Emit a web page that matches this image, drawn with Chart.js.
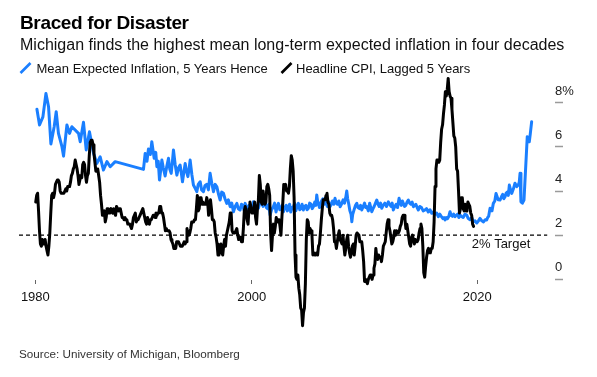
<!DOCTYPE html>
<html>
<head>
<meta charset="utf-8">
<script src="https://cdn.jsdelivr.net/npm/chart.js@4.4.1/dist/chart.umd.min.js"></script>
<style>
html,body{margin:0;padding:0;background:#fff;}
body{width:597px;height:377px;position:relative;overflow:hidden;font-family:'Liberation Sans',Arial,Helvetica,sans-serif;}
.t{position:absolute;white-space:nowrap;line-height:1;}
#title{left:20px;top:13.2px;font-size:19px;font-weight:bold;letter-spacing:-0.35px;color:#000;}
#subtitle{left:20px;top:37.2px;font-size:16px;color:#111;}
.leg{top:61.7px;font-size:13px;color:#111;}
#src{left:19px;top:348.3px;font-size:11.7px;color:#333;}
svg.icon{position:absolute;}
canvas{position:absolute;left:0;top:0;}
</style>
</head>
<body>
<canvas id="c" width="597" height="377"></canvas>
<div class="t" id="title">Braced for Disaster</div>
<div class="t" id="subtitle">Michigan finds the highest mean long-term expected inflation in four decades</div>
<svg class="icon" style="left:19px;top:62px" width="13" height="12"><line x1="1.5" y1="11" x2="11.5" y2="1" stroke="#1a7fff" stroke-width="2.6"/></svg>
<div class="t leg" style="left:36.5px">Mean Expected Inflation, 5 Years Hence</div>
<svg class="icon" style="left:280px;top:62px" width="13" height="12"><line x1="1.5" y1="11" x2="11.5" y2="1" stroke="#000" stroke-width="2.6"/></svg>
<div class="t leg" style="left:296px">Headline CPI, Lagged 5 Years</div>
<div class="t" id="src">Source: University of Michigan, Bloomberg</div>
<script>
// ---- data ----
// Headline CPI YoY (%), monthly from Nov 1985, plotted 5 years earlier
const cpiStart = 1980 + 10 / 12;
const cpiValues = [
  3.5, 3.8,
  3.9, 3.1, 2.2, 1.6, 1.5, 1.8, 1.6, 1.6, 1.8, 1.5, 1.3, 1.1,
  1.5, 2.1, 3.0, 3.8, 3.9, 3.7, 3.9, 4.3, 4.4, 4.5, 4.5, 4.4,
  4.0, 3.9, 3.9, 3.9, 3.9, 4.0, 4.1, 4.0, 4.2, 4.2, 4.2, 4.4,
  4.7, 4.8, 5.0, 5.1, 5.4, 5.2, 5.0, 4.7, 4.3, 4.5, 4.7, 4.6,
  5.2, 5.3, 5.2, 4.7, 4.4, 4.7, 4.8, 5.6, 6.2, 6.3, 6.3, 6.1,
  5.7, 5.3, 4.9, 4.9, 5.0, 4.7, 4.4, 3.8, 3.4, 2.9, 3.0, 3.1,
  2.6, 2.8, 3.2, 3.2, 3.0, 3.1, 3.2, 3.1, 3.0, 3.2, 3.0, 2.9,
  3.3, 3.2, 3.1, 3.2, 3.2, 3.0, 2.8, 2.8, 2.7, 2.8, 2.7, 2.7,
  2.5, 2.5, 2.5, 2.4, 2.3, 2.5, 2.8, 2.9, 3.0, 2.6, 2.7, 2.7,
  2.8, 2.9, 2.9, 3.1, 3.2, 3.0, 2.8, 2.6, 2.5, 2.8, 2.6, 2.5,
  2.7, 2.7, 2.8, 2.9, 2.9, 2.8, 3.0, 2.9, 3.0, 3.0, 3.3, 3.3,
  3.0, 3.0, 2.8, 2.5, 2.2, 2.3, 2.2, 2.2, 2.2, 2.1, 1.8, 1.7,
  1.6, 1.4, 1.4, 1.4, 1.7, 1.7, 1.7, 1.6, 1.5, 1.5, 1.5, 1.6,
  1.7, 1.6, 1.7, 2.3, 2.1, 2.0, 2.1, 2.3, 2.6, 2.6, 2.6, 2.7,
  2.7, 3.2, 3.8, 3.1, 3.2, 3.7, 3.7, 3.4, 3.5, 3.4, 3.4, 3.4,
  3.7, 3.5, 2.9, 3.3, 3.6, 3.2, 2.7, 2.7, 2.6, 2.1, 1.9, 1.6,
  1.1, 1.1, 1.5, 1.6, 1.2, 1.1, 1.5, 1.8, 1.5, 2.0, 2.2, 2.4,
  2.6, 3.0, 3.0, 2.2, 2.1, 2.1, 2.1, 2.2, 2.3, 2.0, 1.8, 1.9,
  1.9, 1.7, 1.7, 2.3, 3.1, 3.3, 3.0, 2.7, 2.5, 3.2, 3.5, 3.3,
  3.0, 3.0, 3.1, 3.5, 2.8, 2.5, 3.2, 3.6, 4.7, 4.3, 3.5, 3.4,
  4.0, 3.6, 3.4, 3.5, 4.2, 4.3, 4.1, 3.8, 2.1, 1.3, 2.0, 2.5,
  2.1, 2.4, 2.8, 2.6, 2.7, 2.7, 2.4, 2.0, 2.8, 3.5, 4.3, 4.1,
  4.3, 4.0, 4.0, 3.9, 4.2, 5.0, 5.6, 5.4, 4.9, 3.7, 1.1, 0.1,
  0.0, 0.2, -0.4, -0.7, -1.3, -1.4, -2.1, -1.5, -1.3, -0.2, 1.8, 2.7,
  2.6, 2.1, 2.3, 2.2, 2.0, 1.1, 1.2, 1.1, 1.1, 1.2, 1.1, 1.5,
  1.6, 2.1, 2.7, 3.2, 3.6, 3.6, 3.6, 3.8, 3.9, 3.5, 3.4, 3.0,
  2.9, 2.9, 2.7, 2.3, 1.7, 1.7, 1.4, 1.7, 2.0, 2.2, 1.8, 1.7,
  1.6, 2.0, 1.5, 1.1, 1.4, 1.8, 2.0, 1.5, 1.2, 1.0, 1.2, 1.5,
  1.6, 1.1, 1.5, 2.0, 2.1, 2.1, 2.0, 1.7, 1.7, 1.7, 1.3, 0.8,
  -0.1, 0.0, -0.1, -0.2, 0.0, 0.1, 0.2, 0.2, 0.0, 0.2, 0.5, 0.7,
  1.4, 1.0, 0.9, 1.1, 1.0, 1.0, 0.8, 1.1, 1.5, 1.6, 1.7, 2.1,
  2.5, 2.7, 2.4, 2.2, 1.9, 1.6, 1.7, 1.9, 2.2, 2.0, 2.2, 2.1,
  2.1, 2.2, 2.4, 2.5, 2.8, 2.9, 2.9, 2.7, 2.3, 2.5, 2.2, 1.9,
  1.6, 1.5, 1.9, 2.0, 1.8, 1.6, 1.8, 1.7, 1.7, 1.8, 2.1, 2.3,
  2.5, 2.3, 1.5, 0.3, 0.1, 0.6, 1.0, 1.3, 1.4, 1.2, 1.2, 1.4,
  1.4, 1.7, 2.6, 4.2, 5.0, 5.4, 5.4, 5.3, 5.4, 6.2, 6.8, 7.0,
  7.5, 7.9, 8.5, 8.3, 8.6, 9.1, 8.5, 8.3, 8.2, 7.7, 7.1, 6.5,
  6.4, 6.0, 5.0, 4.9, 4.0, 3.0, 3.2, 3.7, 3.7, 3.2, 3.1, 3.4,
  3.1, 3.2, 3.5, 3.4, 3.3, 3.0, 2.9, 2.5, 2.4
];

// Mean expected inflation, 5 years hence (%)
const expYears = [
  1980.94, 1981.17, 1981.47, 1981.74, 1981.97, 1982.18, 1982.47, 1982.65, 1982.85, 1983.16,
  1983.30, 1983.60, 1983.83, 1984.04, 1984.63, 1984.78, 1985.07, 1985.31, 1985.60, 1985.96,
  1986.26, 1986.55, 1986.84, 1987.15, 1987.44, 1987.88,
  1990.39, 1990.54, 1990.70, 1990.83, 1991.00, 1991.13, 1991.25, 1991.34, 1991.48, 1991.58,
  1991.70, 1991.81, 1991.92, 1992.02, 1992.15, 1992.31, 1992.45, 1992.61, 1992.72, 1992.85,
  1992.95, 1993.05, 1993.20, 1993.35, 1993.50, 1993.64, 1993.75, 1993.85, 1993.97, 1994.09,
  1994.20, 1994.33, 1994.43, 1994.53, 1994.68, 1994.82, 1995.00, 1995.12, 1995.25, 1995.42,
  1995.55, 1995.71, 1995.85, 1996.01, 1996.15, 1996.30, 1996.45, 1996.60, 1996.75, 1996.90,
  1997.05, 1997.19, 1997.33, 1997.48, 1997.62, 1997.78, 1997.92, 1998.08, 1998.22, 1998.37,
  1998.52, 1998.67, 1998.80, 1998.96, 1999.08, 1999.20, 1999.30, 1999.41, 1999.53, 1999.65,
  1999.75, 1999.85, 2000.00, 2000.14, 2000.28, 2000.40, 2000.50, 2000.59, 2000.70, 2000.82,
  2000.92, 2001.00, 2001.10, 2001.18, 2001.30, 2001.40, 2001.50, 2001.62, 2001.75, 2001.91,
  2002.02, 2002.15, 2002.25, 2002.36, 2002.48, 2002.60, 2002.70, 2002.80, 2002.92, 2003.05,
  2003.15, 2003.24, 2003.35, 2003.45, 2003.57, 2003.69, 2003.80, 2003.90, 2004.02, 2004.13,
  2004.25, 2004.35, 2004.46, 2004.57, 2004.68, 2004.80, 2004.90, 2005.02, 2005.13, 2005.25,
  2005.35, 2005.46, 2005.58, 2005.68, 2005.76, 2005.83, 2005.90, 2006.00, 2006.06, 2006.18,
  2006.30, 2006.40, 2006.50, 2006.60, 2006.70, 2006.82, 2006.94, 2007.05, 2007.15, 2007.27,
  2007.38, 2007.48, 2007.60, 2007.72, 2007.83, 2007.95, 2008.10, 2008.22, 2008.33, 2008.42,
  2008.50, 2008.60, 2008.70, 2008.80, 2008.87, 2008.95, 2009.10, 2009.20, 2009.31, 2009.42,
  2009.55, 2009.65, 2009.75, 2009.88, 2010.00, 2010.10, 2010.20, 2010.33, 2010.45, 2010.55,
  2010.64, 2010.75, 2010.85, 2010.97, 2011.08, 2011.20, 2011.30, 2011.42, 2011.52, 2011.65,
  2011.80, 2011.95, 2012.11, 2012.22, 2012.35, 2012.45, 2012.55, 2012.68, 2012.80, 2012.93,
  2013.06, 2013.15, 2013.25, 2013.35, 2013.44, 2013.55, 2013.65, 2013.77, 2013.88, 2014.00,
  2014.10, 2014.22, 2014.33, 2014.45, 2014.55, 2014.66, 2014.77, 2014.90, 2015.05, 2015.20,
  2015.36, 2015.50, 2015.65, 2015.80, 2015.96, 2016.10, 2016.25, 2016.40, 2016.54, 2016.68,
  2016.80, 2016.95, 2017.05, 2017.14, 2017.25, 2017.35, 2017.47, 2017.58, 2017.68, 2017.80,
  2017.90, 2018.02, 2018.13, 2018.25, 2018.36, 2018.47, 2018.60, 2018.75, 2018.90, 2019.06,
  2019.20, 2019.35, 2019.50, 2019.65, 2019.80, 2019.95, 2020.10, 2020.24, 2020.40, 2020.55,
  2020.70, 2020.83, 2020.92, 2021.00, 2021.13, 2021.30, 2021.42, 2021.55, 2021.66, 2021.85,
  2022.01, 2022.15, 2022.25, 2022.35, 2022.46, 2022.55, 2022.65, 2022.75, 2022.84, 2022.95,
  2023.05, 2023.20, 2023.34, 2023.50, 2023.63, 2023.72, 2023.79, 2023.87, 2024.00, 2024.14,
  2024.43, 2024.61, 2024.70, 2024.82
];
const expValues = [
  7.70, 6.99, 7.36, 8.42, 7.82, 6.13, 6.91, 7.59, 6.61, 6.01,
  5.58, 6.99, 6.61, 6.91, 6.61, 6.23, 7.11, 5.86, 6.68, 5.71,
  5.25, 5.55, 4.95, 5.33, 5.10, 5.33,
  4.98, 5.70, 5.35, 5.90, 5.65, 6.23, 5.80, 5.48, 5.75, 5.10,
  5.35, 4.50, 4.95, 5.40, 5.05, 4.68, 5.10, 5.48, 5.00, 4.80,
  5.30, 5.86, 5.20, 4.72, 5.05, 5.18, 4.80, 4.42, 4.85, 5.25,
  4.90, 4.65, 5.00, 5.40, 4.75, 4.27, 4.10, 3.97, 4.30, 4.42,
  4.05, 3.97, 4.25, 4.30, 4.05, 4.80, 4.35, 3.97, 4.30, 4.19,
  3.85, 3.59, 3.95, 3.90, 3.65, 3.44, 3.60, 3.29, 3.45, 3.06,
  3.30, 3.44, 3.20, 3.14, 3.40, 3.35, 3.15, 3.44, 3.25, 3.10,
  3.35, 3.29, 3.10, 3.51, 3.30, 3.15, 3.35, 3.22, 3.45, 3.70,
  3.40, 3.30, 3.55, 3.51, 3.25, 3.20, 3.40, 2.91, 3.15, 3.29,
  3.45, 3.05, 3.30, 3.44, 3.15, 3.20, 3.35, 3.06, 3.25, 3.35,
  3.10, 3.22, 3.40, 3.05, 3.25, 3.29, 3.45, 3.10, 3.30, 3.44,
  3.15, 3.20, 3.40, 3.14, 3.30, 3.35, 3.15, 3.22, 3.45, 3.40,
  3.20, 3.29, 3.50, 3.35, 3.82, 3.55, 3.45, 3.25, 3.37, 3.55,
  3.65, 3.40, 3.59, 3.45, 3.30, 3.50, 3.29, 3.40, 3.55, 3.40,
  3.67, 3.45, 3.40, 3.55, 3.29, 3.40, 3.60, 3.45, 3.70, 4.00,
  3.65, 3.40, 3.10, 2.95, 2.61, 2.95, 3.20, 3.35, 3.44, 3.25,
  3.20, 3.35, 3.14, 3.30, 3.45, 3.25, 3.29, 3.10, 3.45, 3.25,
  3.06, 3.20, 3.30, 3.45, 3.59, 3.40, 3.30, 3.45, 3.22, 3.35,
  3.45, 3.30, 3.51, 3.40, 3.30, 3.45, 3.14, 3.30, 3.40, 3.25,
  3.67, 3.50, 3.35, 3.55, 3.44, 3.30, 3.35, 3.50, 3.59, 3.45,
  3.40, 3.50, 3.29, 3.35, 3.40, 3.25, 3.14, 3.30, 3.25, 3.10,
  3.14, 3.20, 3.05, 3.15, 2.99, 3.05, 2.95, 3.00, 2.84, 2.95,
  2.85, 2.75, 2.80, 2.69, 2.80, 2.75, 2.85, 3.06, 2.90, 2.85,
  2.95, 2.84, 2.90, 2.95, 2.80, 2.91, 2.85, 2.80, 2.95, 2.91,
  2.75, 2.70, 2.80, 2.61, 2.65, 2.55, 2.65, 2.76, 2.65, 2.60,
  2.70, 2.69, 2.80, 2.85, 3.22, 3.10, 3.44, 3.55, 3.89, 3.60,
  3.59, 3.75, 3.85, 3.65, 3.74, 3.90, 3.95, 3.80, 4.27, 4.05,
  3.89, 4.10, 4.35, 4.20, 4.27, 4.40, 4.80, 3.51, 3.45, 3.59,
  6.46, 6.23, 6.60, 7.14
];

const targetYears = [1979.35, 2026.2];
const targetValues = [2, 2];
const targetLabel = '2% Target';
const targetLabelAt = [2022.1, 1.6];

const xTickYears = [1980.8, 2000, 2020];
const xTickLabels = ['1980', '2000', '2020'];
const yTickValues = [0, 2, 4, 6, 8];
const yTickLabels = ['0', '2', '4', '6', '8%'];

// ---- chart ----
const FONT = "'Liberation Sans', Arial, Helvetica, sans-serif";
const cpiPoints = cpiValues.map((v, i) => ({ x: cpiStart + i / 12, y: v }));
const expPoints = expYears.map((x, i) => ({ x: x, y: expValues[i] }));
const targetPoints = targetYears.map((x, i) => ({ x: x, y: targetValues[i] }));

const targetText = {
  id: 'targetText',
  afterDatasetsDraw(chart) {
    const ctx = chart.ctx;
    ctx.save();
    ctx.font = '13px ' + FONT;
    ctx.fillStyle = '#111';
    ctx.textAlign = 'center';
    ctx.textBaseline = 'middle';
    ctx.fillText(targetLabel,
      chart.scales.x.getPixelForValue(targetLabelAt[0]),
      chart.scales.y.getPixelForValue(targetLabelAt[1]));
    ctx.restore();
  }
};

new Chart(document.getElementById('c'), {
  type: 'line',
  data: {
    datasets: [
      { label: 'Headline CPI, Lagged 5 Years', data: cpiPoints, borderColor: '#000', borderWidth: 3,
        pointRadius: 0, tension: 0, borderJoinStyle: 'round', borderCapStyle: 'round' },
      { label: 'Mean Expected Inflation, 5 Years Hence', data: expPoints, borderColor: '#1a7fff', borderWidth: 3,
        pointRadius: 0, tension: 0, borderJoinStyle: 'round', borderCapStyle: 'round' },
      { label: '2% Target', data: targetPoints, borderColor: '#000', borderWidth: 1.3, borderDash: [4, 3],
        pointRadius: 0 }
    ]
  },
  options: {
    responsive: false,
    animation: false,
    devicePixelRatio: 1,
    parsing: false,
    layout: { padding: { left: 19, right: 0, top: 74, bottom: 44.7 } },
    plugins: { legend: { display: false }, tooltip: { enabled: false }, title: { display: false } },
    scales: {
      x: {
        type: 'linear', min: 1979.35, max: 2026.89,
        position: { y: -0.03 },
        afterBuildTicks: s => { s.ticks = xTickYears.map(v => ({ value: v })); },
        afterFit: s => { s.height = 0; },
        grid: { drawOnChartArea: false, drawTicks: true, tickLength: 4, tickColor: '#666', tickWidth: 1 },
        border: { display: false },
        ticks: { padding: 6, color: '#111', font: { family: FONT, size: 13 }, maxRotation: 0, autoSkip: false,
          callback: (v, i) => xTickLabels[i] }
      },
      y: {
        type: 'linear', position: 'right', min: -2.4, max: 9.3,
        afterBuildTicks: s => { s.ticks = yTickValues.map(v => ({ value: v })); },
        afterFit: s => { s.width = 42; },
        grid: { drawOnChartArea: false, drawTicks: true, tickLength: 8, tickColor: '#9a9a9a', tickWidth: 1.5 },
        border: { display: false },
        ticks: { padding: -8, labelOffset: -11.5, color: '#222', font: { family: FONT, size: 13 },
          callback: (v, i) => yTickLabels[i] }
      }
    }
  },
  plugins: [targetText]
});
</script>
</body>
</html>
